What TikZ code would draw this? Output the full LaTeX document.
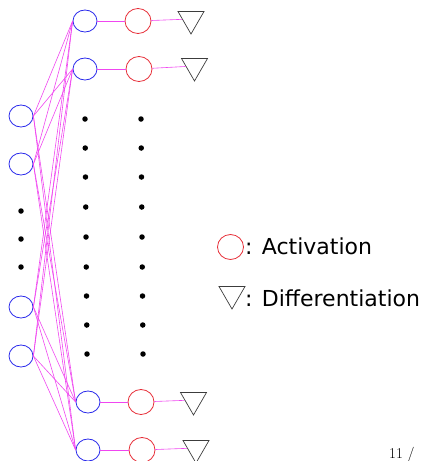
\documentclass[tikz,border=0pt]{standalone}
\usepackage{fontspec}
\setmainfont{DejaVu Sans}
\newfontfamily\pagefont{Latin Modern Roman}
\usetikzlibrary{shapes.geometric}
\definecolor{nblue}{RGB}{40,40,235}
\definecolor{nred}{RGB}{230,45,55}
\definecolor{edgemag}{RGB}{240,70,240}
\definecolor{trigray}{RGB}{60,60,60}
\begin{document}
\begin{tikzpicture}[x=1pt,y=-1pt,
  inode/.style={ellipse,draw=nblue,line width=0.8pt,minimum width=24pt,minimum height=22pt,inner sep=0pt},
  anode/.style={ellipse,draw=nred,line width=0.8pt,minimum width=26pt,minimum height=25pt,inner sep=0pt},
  dnode/.style={regular polygon,regular polygon sides=3,shape border rotate=180,draw=trigray,line width=0.7pt,minimum size=30pt,inner sep=0pt},
  dotnode/.style={circle,fill=black,minimum size=5.5pt,inner sep=0pt},
  edge/.style={draw=edgemag,line width=0.6pt},
  legtext/.style={anchor=west,inner sep=0pt,font=\fontsize{22pt}{24pt}\selectfont}]
\useasboundingbox (0,0) rectangle (422,461);
% input layer
\node[inode] (L1) at (21,116) {};
\node[inode] (L2) at (21,164) {};
\node[inode] (L3) at (21,307) {};
\node[inode] (L4) at (21,356) {};
\node[dotnode] (ld1) at (21,211) {};
\node[dotnode] (ld2) at (21,239) {};
\node[dotnode] (ld3) at (21,267) {};
% hidden layer
\node[inode] (H1) at (85,21) {};
\node[inode] (H2) at (85,69) {};
\node[inode] (H3) at (88,402) {};
\node[inode] (H4) at (88,450) {};
% activations
\node[anode] (A1) at (138,21) {};
\node[anode] (A2) at (139,69) {};
\node[anode] (A3) at (141,402) {};
\node[anode] (A4) at (142,450) {};
% differentiation
\node[dnode] (T1) at (191,19) {};
\node[dnode] (T2) at (194.5,66) {};
\node[dnode] (T3) at (193.5,400) {};
\node[dnode] (T4) at (196,448) {};
% dots
\foreach \i/\y in {1/119,2/148,3/177,4/207,5/237,6/267,7/296,8/325,9/354}{
  \pgfmathsetmacro{\xa}{85+2*(\y-119)/235}
  \pgfmathsetmacro{\xb}{141+2*(\y-119)/235}
  \node[dotnode] (md\i) at (\xa,\y) {};
  \node[dotnode] (rd\i) at (\xb,\y) {};
}
% edges
\foreach \l in {L1,L2,L3,L4}{
  \foreach \h in {H1,H2,H3,H4}{
    \draw[edge] (\l.east) -- (\h.west);
  }
}
\foreach \k in {1,2,3,4}{
  \draw[edge] (H\k) -- (A\k);
  \draw[edge] (A\k) -- (T\k);
}
% legend
\node[anode] (legA) at (230.5,247) {};
\node[legtext] (legAt) at (245,246) {: Activation};
\node[dnode] (legT) at (232,294) {};
\node[legtext] (legTt) at (245,298) {: Differentiation};
% page number
\node[anchor=base west,inner sep=0pt,font=\pagefont\fontsize{15pt}{17pt}\selectfont] (pg) at (389,458) {11 /};
\end{tikzpicture}
\end{document}
